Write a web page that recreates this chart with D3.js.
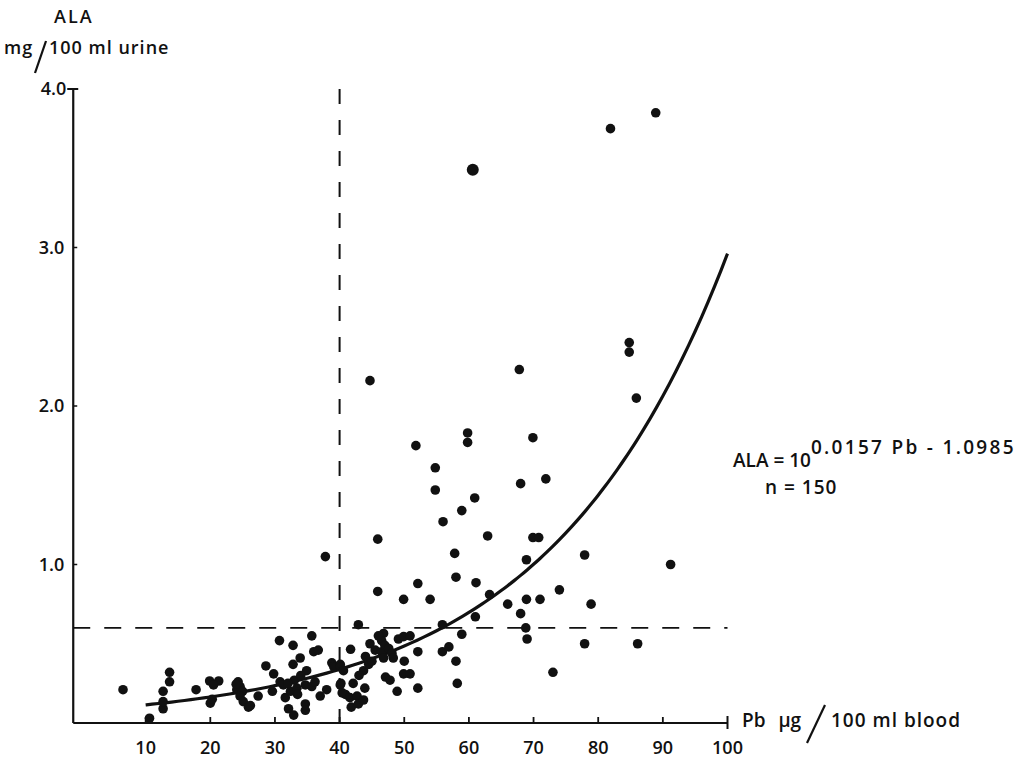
<!DOCTYPE html>
<html>
<head>
<meta charset="utf-8">
<script src="https://cdn.jsdelivr.net/npm/d3@7"></script>
<style>
  body { margin: 0; background: #fff; }
  text { font-family: "Open Sans", sans-serif; font-weight: 600; fill: #111; }
</style>
</head>
<body>
<svg id="chart" width="1024" height="761"></svg>
<script>
// blood lead (Pb, ug/100 ml) vs urinary ALA (mg/100 ml)
const pb = [
  6.5, 10.6, 12.7, 12.7, 12.7, 13.7, 13.7, 17.8, 19.9, 21.3,
  20.5, 20.0, 20.3, 24.3, 24.6, 24.1, 25.0, 24.6, 25.1, 25.9,
  24.0, 27.4, 26.2, 28.6, 29.6, 30.8, 30.7, 31.3, 31.6, 32.1,
  32.9, 32.4, 32.8, 32.8, 33.4, 33.9, 34.7, 34.9, 34.7, 34.7,
  35.7, 35.7, 36.0, 36.7, 37.0, 33.0, 32.0, 33.5, 36.2, 37.8,
  38.8, 39.1, 40.1, 40.1, 40.6, 40.2, 40.1, 40.9, 40.4, 41.6,
  41.8, 42.1, 42.7, 42.9, 43.7, 43.9, 42.9, 41.7, 43.7, 44.5,
  45.0, 44.7, 45.5, 46.5, 46.8, 46.5, 47.0, 47.6, 48.1, 46.8,
  48.3, 47.1, 47.8, 48.9, 49.1, 49.9, 50.9, 50.0, 49.9, 50.9,
  52.1, 52.1, 44.7, 45.9, 45.9, 49.9, 51.8, 52.1, 54.0, 54.8,
  54.8, 55.9, 55.9, 56.9, 56.0, 57.8, 58.0, 58.0, 58.2, 58.9,
  58.9, 59.8, 59.8, 60.6, 60.9, 61.1, 61.0, 62.9, 63.2, 66.0,
  67.8, 68.0, 68.0, 68.9, 68.9, 68.8, 69.0, 69.9, 69.9, 70.8,
  71.0, 71.9, 73.0, 74.0, 77.9, 77.9, 78.9, 81.9, 84.8, 84.8,
  85.9, 86.1, 88.9, 91.2, 43.0, 46.0, 38.0, 29.8, 44.0, 34.0
]
const ala = [
  0.21, 0.03, 0.09, 0.135, 0.20, 0.26, 0.32, 0.21, 0.265, 0.265,
  0.24, 0.125, 0.15, 0.26, 0.23, 0.21, 0.20, 0.17, 0.135, 0.10,
  0.245, 0.17, 0.11, 0.36, 0.20, 0.26, 0.52, 0.24, 0.16, 0.09,
  0.05, 0.20, 0.49, 0.37, 0.22, 0.41, 0.24, 0.33, 0.12, 0.08,
  0.23, 0.55, 0.45, 0.46, 0.17, 0.27, 0.25, 0.18, 0.26, 1.05,
  0.38, 0.355, 0.37, 0.355, 0.33, 0.25, 0.24, 0.18, 0.19, 0.16,
  0.10, 0.25, 0.17, 0.12, 0.145, 0.22, 0.62, 0.465, 0.33, 0.37,
  0.39, 0.50, 0.46, 0.45, 0.565, 0.52, 0.49, 0.47, 0.44, 0.41,
  0.41, 0.29, 0.27, 0.20, 0.53, 0.545, 0.55, 0.39, 0.31, 0.31,
  0.45, 0.22, 2.16, 1.16, 0.83, 0.78, 1.75, 0.88, 0.78, 1.61,
  1.47, 0.62, 0.45, 0.48, 1.27, 1.07, 0.92, 0.39, 0.25, 0.56,
  1.34, 1.83, 1.77, 3.49, 1.42, 0.885, 0.67, 1.18, 0.81, 0.75,
  2.23, 1.51, 0.69, 1.03, 0.78, 0.60, 0.53, 1.80, 1.17, 1.17,
  0.78, 1.54, 0.32, 0.84, 1.06, 0.50, 0.75, 3.75, 2.40, 2.34,
  2.05, 0.50, 3.85, 1.00, 0.30, 0.55, 0.21, 0.31, 0.42, 0.30
]
const xTicks = [10, 20, 30, 40, 50, 60, 70, 80, 90, 100]
const yTicks = [1, 2, 3, 4]
const limitPb = 40
const limitAla = 0.6
const fitA = 0.0157
const fitB = -1.0985

const svg = d3.select('#chart')
const x = d3.scaleLinear().domain([0, 100]).range([81, 727.5])
const y = d3.scaleLinear().domain([0, 4]).range([723, 89])
const x0 = x(-1.2)

// axes
svg.append('line').attr('x1', x0).attr('x2', x(100)).attr('y1', y(0)).attr('y2', y(0))
  .attr('stroke', '#111').attr('stroke-width', 2.2)
svg.append('line').attr('x1', x0).attr('x2', x0).attr('y1', y(0)).attr('y2', y(4))
  .attr('stroke', '#111').attr('stroke-width', 2.2)
svg.append('line').attr('x1', x0 - 6).attr('x2', x0 + 5).attr('y1', y(4)).attr('y2', y(4))
  .attr('stroke', '#111').attr('stroke-width', 2)
svg.append('line').attr('x1', x(100)).attr('x2', x(100)).attr('y1', y(0) - 7).attr('y2', y(0) + 6)
  .attr('stroke', '#111').attr('stroke-width', 2)

svg.selectAll('.xtick').data(xTicks.slice(0, -1)).enter().append('line')
  .attr('x1', d => x(d)).attr('x2', d => x(d)).attr('y1', y(0)).attr('y2', y(0) - 6)
  .attr('stroke', '#111').attr('stroke-width', 1.8)
svg.selectAll('.xlab').data(xTicks).enter().append('text')
  .attr('x', d => x(d)).attr('y', 754).attr('text-anchor', 'middle')
  .style('font-size', '18px').text(d => d)

svg.selectAll('.ytick').data(yTicks.slice(0, -1)).enter().append('line')
  .attr('x1', x0).attr('x2', x0 + 4).attr('y1', d => y(d)).attr('y2', d => y(d))
  .attr('stroke', '#111').attr('stroke-width', 1.5)
svg.selectAll('.ylab').data(yTicks).enter().append('text')
  .attr('x', d => d === 4 ? x0 - 7 : x0 - 9).attr('y', d => y(d) + 6).attr('text-anchor', 'end')
  .style('font-size', '18px').text(d => d.toFixed(1))

// limit lines
svg.append('line').attr('x1', x0).attr('x2', x(100)).attr('y1', y(limitAla)).attr('y2', y(limitAla))
  .attr('stroke', '#111').attr('stroke-width', 1.8).attr('stroke-dasharray', '17,14')
svg.append('line').attr('x1', x(limitPb)).attr('x2', x(limitPb)).attr('y1', y(4)).attr('y2', y(0))
  .attr('stroke', '#111').attr('stroke-width', 2).attr('stroke-dasharray', '15,16')

// fitted curve
const curvePb = d3.range(10, 100.01, 1)
svg.append('path')
  .datum(curvePb)
  .attr('fill', 'none').attr('stroke', '#111').attr('stroke-width', 3.2)
  .attr('d', d3.line().x(d => x(d)).y(d => y(Math.pow(10, fitA * d + fitB))).curve(d3.curveMonotoneX))

// points
svg.selectAll('circle').data(pb).enter().append('circle')
  .attr('cx', d => x(d)).attr('cy', (d, i) => y(ala[i]))
  .attr('r', (d, i) => ala[i] > 3.4 && ala[i] < 3.6 ? 6 : 4.8)
  .attr('fill', '#111')

// y axis title
svg.append('text').attr('x', 54).attr('y', 23).style('font-size', '18px')
  .style('letter-spacing', '2px').text('ALA')
svg.append('text').attr('x', 4).attr('y', 54).style('font-size', '18px')
  .style('letter-spacing', '1px').text('mg')
svg.append('line').attr('x1', 35).attr('y1', 73).attr('x2', 46).attr('y2', 41)
  .attr('stroke', '#111').attr('stroke-width', 2.2)
svg.append('text').attr('x', 49).attr('y', 54).style('font-size', '18px')
  .style('letter-spacing', '1px').text('100 ml  urine')

// x axis title
svg.append('text').attr('x', 742).attr('y', 727).style('font-size', '19px')
  .style('word-spacing', '8px').text('Pb μg')
svg.append('line').attr('x1', 807).attr('y1', 743).attr('x2', 825).attr('y2', 705)
  .attr('stroke', '#111').attr('stroke-width', 2.2)
svg.append('text').attr('x', 831).attr('y', 727).style('font-size', '19px')
  .style('letter-spacing', '1px').text('100 ml  blood')

// equation
const eq = svg.append('text').attr('x', 733).attr('y', 467).style('font-size', '19px')
eq.append('tspan').text('ALA = 10')
eq.append('tspan').attr('dy', -13).style('letter-spacing', '2.3px')
  .text('0.0157 Pb - 1.0985')
svg.append('text').attr('x', 765).attr('y', 494).style('font-size', '19px')
  .style('letter-spacing', '1px').text('n = 150')
</script>
</body>
</html>
